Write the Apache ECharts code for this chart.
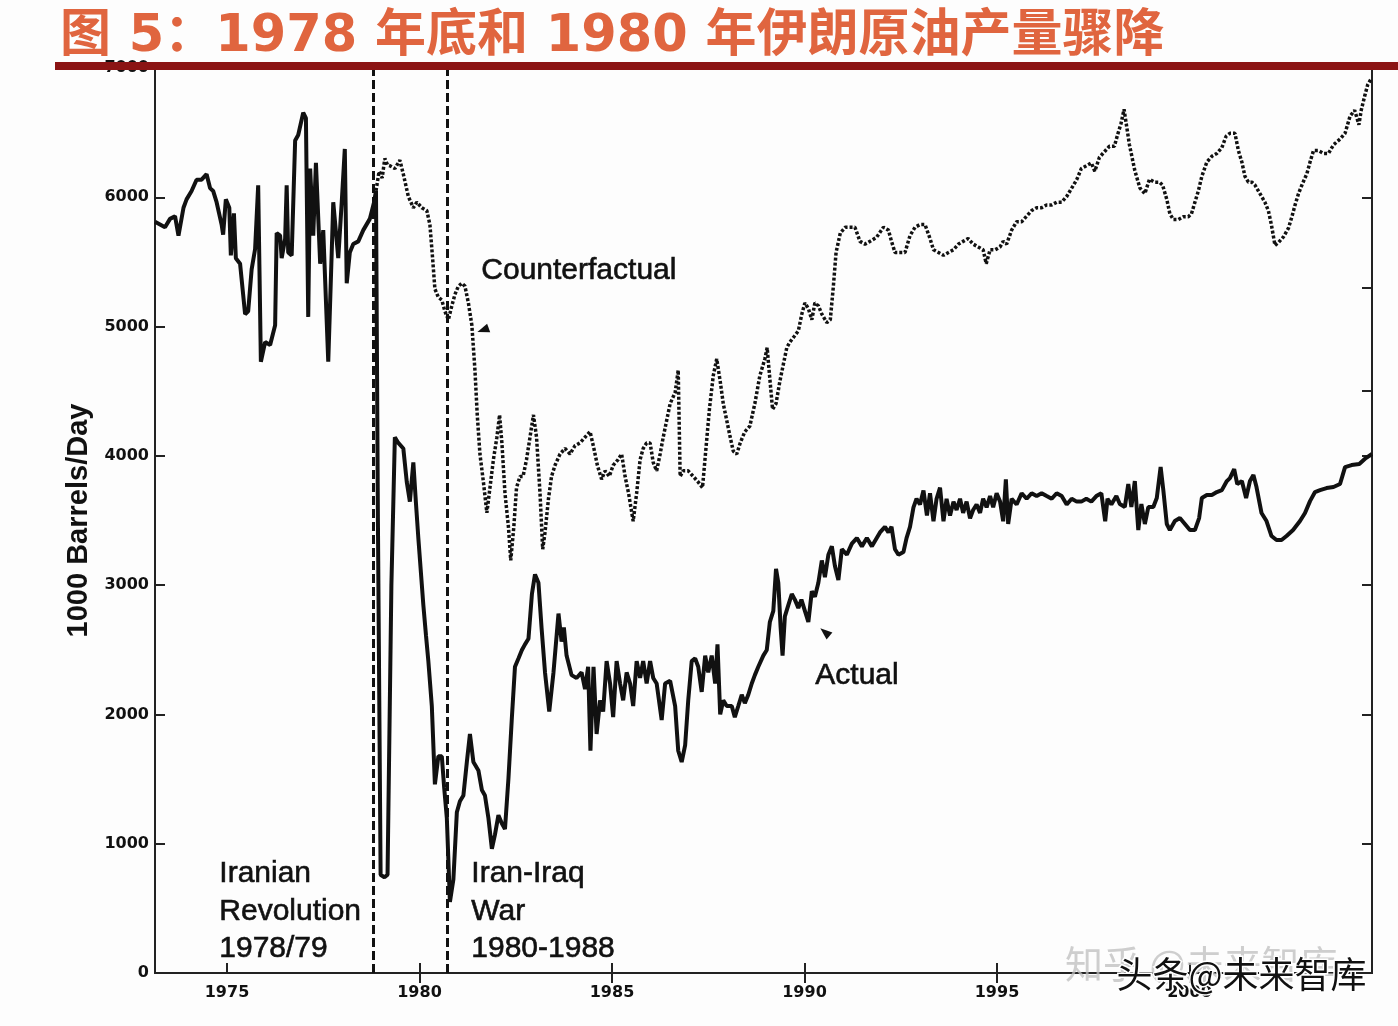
<!DOCTYPE html>
<html>
<head>
<meta charset="utf-8">
<script src="https://cdn.jsdelivr.net/npm/echarts@6/dist/echarts.min.js"></script>
<style>
html,body{margin:0;padding:0;background:#fdfdfd;}
#chart{width:1398px;height:1026px;}
</style>
</head>
<body>
<div id="chart"></div>
<script>
// ---- Data (year, 1000 barrels/day) ----
var actualSeries = [
[1973.13,5811],[1973.39,5768],[1973.52,5833],[1973.65,5854],[1973.74,5703],[1973.87,5919],[1973.95,5984],
[1974.08,6049],[1974.21,6136],[1974.34,6136],[1974.47,6179],[1974.56,6071],[1974.64,6049],[1974.73,5962],
[1974.86,5789],[1974.90,5711],[1974.97,5984],[1975.06,5919],[1975.10,5551],[1975.18,5876],[1975.23,5529],
[1975.34,5486],[1975.47,5096],[1975.55,5118],[1975.64,5443],[1975.73,5600],[1975.81,6092],[1975.88,4728],
[1975.99,4880],[1976.12,4858],[1976.25,5010],[1976.29,5724],[1976.38,5703],[1976.42,5529],[1976.51,5681],
[1976.55,6092],[1976.59,5573],[1976.68,5551],[1976.77,6439],[1976.85,6482],[1976.98,6655],[1977.05,6612],
[1977.11,5075],[1977.16,6222],[1977.24,5703],[1977.31,6266],[1977.42,5486],[1977.50,5746],[1977.63,4728],
[1977.72,5573],[1977.76,5962],[1977.89,5529],[1977.98,5962],[1978.06,6374],[1978.11,5335],[1978.19,5573],
[1978.28,5638],[1978.41,5659],[1978.54,5746],[1978.71,5833],[1978.82,5962],[1978.87,6050],[1978.92,3500],
[1978.99,760],[1979.09,740],[1979.17,760],[1979.27,3000],[1979.36,4144],[1979.45,4100],
[1979.58,4057],[1979.67,3797],[1979.75,3646],[1979.84,3949],[1979.91,3624],[1979.97,3364],[1980.10,2845],
[1980.17,2607],[1980.23,2412],[1980.32,2065],[1980.40,1459],[1980.49,1676],[1980.58,1676],[1980.64,1437],
[1980.71,1199],[1980.79,550],[1980.88,723],[1980.97,1243],[1981.05,1329],[1981.14,1373],[1981.23,1632],
[1981.31,1849],[1981.40,1632],[1981.53,1567],[1981.62,1416],[1981.70,1373],[1981.79,1199],[1981.88,961],
[1981.96,1070],[1982.05,1221],[1982.14,1156],[1982.22,1113],[1982.31,1503],[1982.40,1979],[1982.48,2369],
[1982.57,2433],[1982.66,2498],[1982.74,2542],[1982.83,2585],[1982.92,2931],[1983.00,3083],[1983.09,3018],
[1983.17,2672],[1983.26,2325],[1983.37,2022],[1983.48,2325],[1983.61,2780],[1983.69,2563],[1983.75,2672],
[1983.82,2455],[1983.95,2304],[1984.08,2282],[1984.21,2325],[1984.30,2195],[1984.38,2369],[1984.44,1719],
[1984.52,2369],[1984.60,1849],[1984.69,2109],[1984.77,2022],[1984.86,2412],[1984.95,2239],[1985.03,1979],
[1985.12,2412],[1985.21,2239],[1985.29,2109],[1985.38,2325],[1985.47,2239],[1985.55,2065],[1985.64,2412],
[1985.73,2282],[1985.81,2412],[1985.90,2239],[1985.99,2412],[1986.07,2282],[1986.16,2239],[1986.29,1957],
[1986.38,2239],[1986.51,2260],[1986.64,2065],[1986.72,1719],[1986.81,1632],[1986.90,1762],[1986.98,2109],
[1987.07,2412],[1987.16,2433],[1987.24,2369],[1987.33,2174],[1987.42,2455],[1987.50,2325],[1987.59,2455],
[1987.68,2239],[1987.74,2542],[1987.81,2000],[1987.89,2109],[1987.98,2065],[1988.11,2065],[1988.19,1979],
[1988.28,2065],[1988.37,2152],[1988.45,2087],[1988.54,2152],[1988.63,2239],[1988.71,2304],[1988.80,2369],
[1988.93,2455],[1989.02,2498],[1989.10,2715],[1989.19,2801],[1989.26,3126],[1989.32,3018],[1989.38,2672],
[1989.43,2455],[1989.49,2758],[1989.58,2845],[1989.67,2931],[1989.75,2888],[1989.84,2823],[1989.92,2888],
[1990.01,2801],[1990.10,2715],[1990.19,2953],[1990.27,2910],[1990.36,3018],[1990.45,3191],[1990.53,3061],
[1990.62,3235],[1990.71,3300],[1990.79,3148],[1990.88,3040],[1990.97,3278],[1991.10,3235],[1991.23,3321],
[1991.36,3364],[1991.49,3300],[1991.62,3364],[1991.75,3300],[1991.96,3408],[1992.09,3451],[1992.18,3408],
[1992.26,3451],[1992.35,3278],[1992.44,3235],[1992.57,3256],[1992.65,3364],[1992.74,3451],[1992.83,3602],
[1992.91,3668],[1993.00,3624],[1993.09,3732],[1993.18,3538],[1993.26,3711],[1993.35,3494],[1993.43,3668],
[1993.52,3754],[1993.61,3494],[1993.69,3668],[1993.78,3538],[1993.87,3646],[1993.95,3581],[1994.04,3668],
[1994.12,3559],[1994.21,3646],[1994.30,3516],[1994.38,3581],[1994.47,3624],[1994.56,3559],[1994.64,3668],
[1994.73,3602],[1994.82,3689],[1994.90,3602],[1994.99,3711],[1995.08,3646],[1995.16,3494],[1995.23,3819],
[1995.29,3473],[1995.38,3668],[1995.51,3624],[1995.64,3711],[1995.77,3668],[1995.90,3711],[1996.03,3689],
[1996.16,3711],[1996.29,3689],[1996.42,3668],[1996.55,3711],[1996.68,3689],[1996.81,3624],[1996.94,3668],
[1997.07,3646],[1997.19,3646],[1997.32,3668],[1997.45,3646],[1997.58,3689],[1997.71,3711],[1997.81,3494],
[1997.87,3668],[1997.97,3624],[1998.10,3689],[1998.19,3627],[1998.32,3604],[1998.41,3782],[1998.49,3604],
[1998.58,3805],[1998.67,3426],[1998.75,3627],[1998.84,3473],[1998.93,3604],[1999.06,3604],[1999.15,3674],
[1999.25,3913],[1999.32,3735],[1999.41,3473],[1999.49,3426],[1999.62,3496],[1999.75,3519],[1999.88,3473],
[2000.01,3426],[2000.14,3426],[2000.25,3519],[2000.32,3674],[2000.45,3697],[2000.58,3697],[2000.71,3720],
[2000.84,3735],[2000.97,3805],[2001.05,3828],[2001.16,3898],[2001.24,3782],[2001.36,3805],[2001.47,3674],
[2001.57,3805],[2001.66,3851],[2001.74,3759],[2001.87,3558],[2002.00,3496],[2002.13,3380],[2002.26,3349],
[2002.39,3349],[2002.52,3380],[2002.69,3426],[2002.87,3496],[2003.00,3558],[2003.13,3650],[2003.26,3720],
[2003.39,3735],[2003.56,3751],[2003.74,3759],[2003.91,3782],[2004.04,3913],[2004.21,3929],[2004.41,3937],
[2004.58,3983],[2004.74,4014]
];

var counterfactualSeries = [
[1978.87,6050],[1978.95,6200],[1979.03,6150],[1979.10,6300],[1979.17,6250],[1979.23,6244],[1979.36,6222],
[1979.49,6287],[1979.58,6179],[1979.71,6006],[1979.84,5919],[1979.93,5962],[1980.06,5919],[1980.19,5897],
[1980.27,5789],[1980.34,5529],[1980.40,5291],[1980.49,5226],[1980.58,5205],[1980.66,5118],[1980.75,5053],
[1980.84,5161],[1980.92,5248],[1981.01,5313],[1981.10,5335],[1981.18,5313],[1981.27,5183],[1981.36,5010],
[1981.44,4663],[1981.50,4317],[1981.57,4014],[1981.66,3797],[1981.75,3559],[1981.83,3754],[1981.92,3971],
[1982.01,4144],[1982.08,4317],[1982.14,4100],[1982.22,3711],[1982.31,3451],[1982.37,3191],[1982.45,3451],
[1982.52,3754],[1982.61,3841],[1982.69,3841],[1982.78,3971],[1982.87,4144],[1982.96,4317],[1983.04,4144],
[1983.13,3711],[1983.20,3278],[1983.26,3408],[1983.35,3668],[1983.43,3841],[1983.52,3927],[1983.65,4014],
[1983.78,4057],[1983.91,4014],[1984.04,4079],[1984.17,4100],[1984.30,4144],[1984.43,4187],[1984.53,4057],
[1984.62,3927],[1984.73,3819],[1984.82,3884],[1984.93,3841],[1985.03,3927],[1985.16,3971],[1985.25,4014],
[1985.34,3841],[1985.43,3711],[1985.55,3494],[1985.64,3711],[1985.73,3971],[1985.81,4057],[1985.90,4100],
[1985.99,4100],[1986.07,3949],[1986.16,3884],[1986.25,4014],[1986.33,4144],[1986.42,4274],[1986.51,4404],
[1986.64,4490],[1986.72,4663],[1986.77,3841],[1986.85,3884],[1986.98,3884],[1987.11,3841],[1987.24,3797],
[1987.35,3754],[1987.44,4057],[1987.53,4360],[1987.63,4620],[1987.72,4750],[1987.81,4577],[1987.89,4404],
[1987.98,4274],[1988.07,4144],[1988.15,4036],[1988.24,4014],[1988.33,4100],[1988.45,4187],[1988.58,4230],
[1988.71,4404],[1988.84,4620],[1988.97,4750],[1989.03,4837],[1989.08,4663],[1989.17,4360],[1989.26,4404],
[1989.36,4577],[1989.45,4707],[1989.54,4837],[1989.62,4880],[1989.73,4923],[1989.84,4967],[1989.93,5096],
[1990.01,5183],[1990.10,5140],[1990.19,5053],[1990.27,5183],[1990.36,5161],[1990.45,5096],[1990.58,5031],
[1990.67,5053],[1990.75,5313],[1990.82,5573],[1990.93,5724],[1991.06,5768],[1991.19,5768],[1991.31,5768],
[1991.44,5659],[1991.57,5638],[1991.70,5659],[1991.87,5690],[1992.05,5768],[1992.18,5746],[1992.26,5659],
[1992.35,5573],[1992.48,5573],[1992.61,5573],[1992.74,5703],[1992.87,5768],[1993.00,5789],[1993.13,5789],
[1993.26,5681],[1993.35,5594],[1993.48,5573],[1993.61,5551],[1993.74,5573],[1993.87,5594],[1994.00,5638],
[1994.12,5659],[1994.25,5681],[1994.38,5638],[1994.51,5616],[1994.64,5594],[1994.72,5486],[1994.82,5594],
[1994.95,5594],[1995.08,5616],[1995.16,5659],[1995.25,5638],[1995.38,5746],[1995.51,5811],[1995.64,5811],
[1995.77,5854],[1995.90,5897],[1996.03,5919],[1996.16,5919],[1996.29,5941],[1996.42,5941],[1996.55,5962],
[1996.68,5962],[1996.81,6006],[1996.94,6071],[1997.07,6136],[1997.19,6222],[1997.32,6244],[1997.45,6266],
[1997.54,6201],[1997.66,6309],[1997.79,6352],[1997.92,6395],[1998.05,6395],[1998.13,6482],[1998.22,6569],
[1998.30,6680],[1998.44,6406],[1998.58,6206],[1998.71,6073],[1998.84,6028],[1998.96,6139],[1999.09,6117],
[1999.22,6117],[1999.30,6095],[1999.41,5984],[1999.49,5872],[1999.58,5828],[1999.71,5828],[1999.84,5850],
[1999.97,5850],[2000.05,5872],[2000.14,5961],[2000.23,6050],[2000.32,6162],[2000.45,6272],[2000.58,6317],
[2000.71,6339],[2000.84,6384],[2000.95,6472],[2001.05,6495],[2001.18,6495],[2001.27,6361],[2001.36,6272],
[2001.44,6162],[2001.53,6117],[2001.62,6117],[2001.70,6095],[2001.83,6028],[2001.96,5961],[2002.05,5895],
[2002.13,5783],[2002.22,5628],[2002.31,5650],[2002.44,5694],[2002.57,5761],[2002.66,5850],[2002.74,5939],
[2002.83,6028],[2002.92,6095],[2003.05,6184],[2003.13,6272],[2003.22,6361],[2003.35,6361],[2003.48,6339],
[2003.61,6339],[2003.74,6406],[2003.91,6450],[2004.04,6495],[2004.17,6628],[2004.29,6673],[2004.40,6561],
[2004.46,6673],[2004.55,6783],[2004.63,6872],[2004.72,6917]
];

var eventYears = [1978.79, 1980.73];          // dashed vertical lines
var xTickYears = [1975, 1980, 1985, 1990, 1995, 2000];
var topTickYears = [1980, 1985, 1990, 1995, 2000];
var rightTickValues = [1000, 2000, 3000, 4000, 4500, 5300, 6000];
var xRange = [1973.13, 2004.74];
var yRange = [0, 7000];
var arrowPoints = { counterfactual: [1981.65, 4973], actual: [1990.53, 2637] };

var titleText = '图 5：1978 年底和 1980 年伊朗原油产量骤降';
var yAxisTitle = '1000 Barrels/Day';

var axisColor = '#222';
var tickLabelStyle = {fontFamily: 'DejaVu Sans', fontWeight: 'bold', fontSize: 16, color: '#111'};
var annoFont = {fontFamily: 'Liberation Sans', fontSize: 30, fill: '#111', stroke: '#111', lineWidth: 0.6};

var chart = echarts.init(document.getElementById('chart'), null, {renderer: 'canvas'});

function annoText(x, y, text) {
  return {type: 'text', left: x, top: y, z: 50,
    style: Object.assign({text: text, lineHeight: 37.5}, annoFont)};
}

var option = {
  backgroundColor: '#fdfdfd',
  animation: false,
  grid: {left: 155, right: 26, top: 68, bottom: 53},
  xAxis: [
    {type: 'value', position: 'bottom', min: xRange[0], max: xRange[1],
     axisLine: {show: true, lineStyle: {color: axisColor, width: 2}},
     axisTick: {show: true, inside: true, length: 10, customValues: xTickYears, lineStyle: {color: axisColor, width: 2}},
     axisLabel: Object.assign({customValues: xTickYears, margin: 12, formatter: function (v) { return String(Math.round(v)); }}, tickLabelStyle),
     splitLine: {show: false}},
    {type: 'value', position: 'top', min: xRange[0], max: xRange[1],
     axisLine: {show: true, lineStyle: {color: axisColor, width: 2}},
     axisTick: {show: true, inside: true, length: 10, customValues: topTickYears, lineStyle: {color: axisColor, width: 2}},
     axisLabel: {show: false}, splitLine: {show: false}}
  ],
  yAxis: [
    {type: 'value', position: 'left', min: yRange[0], max: yRange[1], interval: 1000,
     name: yAxisTitle, nameLocation: 'middle', nameGap: 58, nameRotate: 90,
     nameTextStyle: {fontFamily: 'Liberation Sans', fontWeight: 'bold', fontSize: 29, color: '#111'},
     axisLine: {show: true, lineStyle: {color: axisColor, width: 2}},
     axisTick: {show: true, inside: true, length: 10, lineStyle: {color: axisColor, width: 2}},
     axisLabel: Object.assign({margin: 6, formatter: function (v) { return String(v); }}, tickLabelStyle),
     splitLine: {show: false}},
    {type: 'value', position: 'right', min: yRange[0], max: yRange[1],
     axisLine: {show: true, lineStyle: {color: axisColor, width: 2}},
     axisTick: {show: true, inside: true, length: 10, customValues: rightTickValues, lineStyle: {color: axisColor, width: 2}},
     axisLabel: {show: false}, splitLine: {show: false}}
  ],
  series: [
    {name: 'Actual', type: 'line', xAxisIndex: 0, yAxisIndex: 0, data: actualSeries,
     symbol: 'none', lineStyle: {color: '#111', width: 4}, z: 3,
     markLine: {silent: true, symbol: ['none', 'none'], label: {show: false},
       lineStyle: {color: '#111', width: 3, type: [9, 4]},
       data: eventYears.map(function (y) { return {xAxis: y}; })},
     markPoint: {silent: true, symbol: 'triangle', symbolSize: [9, 12], label: {show: false},
       itemStyle: {color: '#111'},
       data: [{coord: arrowPoints.actual, symbolRotate: 50}]}},
    {name: 'Counterfactual', type: 'line', xAxisIndex: 0, yAxisIndex: 0, data: counterfactualSeries,
     symbol: 'none', lineStyle: {color: '#111', width: 3.5, type: [3, 2]}, z: 2,
     markPoint: {silent: true, symbol: 'triangle', symbolSize: [9, 12], label: {show: false},
       itemStyle: {color: '#111'},
       data: [{coord: arrowPoints.counterfactual, symbolRotate: 110}]}}
  ],
  graphic: [
    {type: 'text', left: 60, top: 12, z: 100,
     style: {text: titleText, fontFamily: "'DejaVu Sans', 'Noto Sans CJK SC'", fontWeight: 'bold', fontSize: 51, fill: '#E0653F'}},
    {type: 'rect', left: 55, top: 62, z: 100, shape: {width: 1343, height: 8}, style: {fill: '#8B1414'}},
    annoText(481, 252, 'Counterfactual'),
    annoText(815, 657, 'Actual'),
    annoText(219, 855, 'Iranian\nRevolution\n1978/79'),
    annoText(471, 855, 'Iran-Iraq\nWar\n1980-1988'),
    {type: 'text', left: 1065, top: 945, z: 60,
     style: {text: '知乎 @未来智库', fontFamily: 'Noto Sans CJK SC', fontSize: 38, fill: 'rgba(190,190,190,0.75)'}},
    {type: 'text', left: 1115, top: 955, z: 61,
     style: {text: '头条@未来智库', fontFamily: 'Noto Sans CJK SC', fontSize: 36, fill: '#111', stroke: '#ffffff', lineWidth: 3}}
  ]
};

chart.setOption(option);
</script>
</body>
</html>
